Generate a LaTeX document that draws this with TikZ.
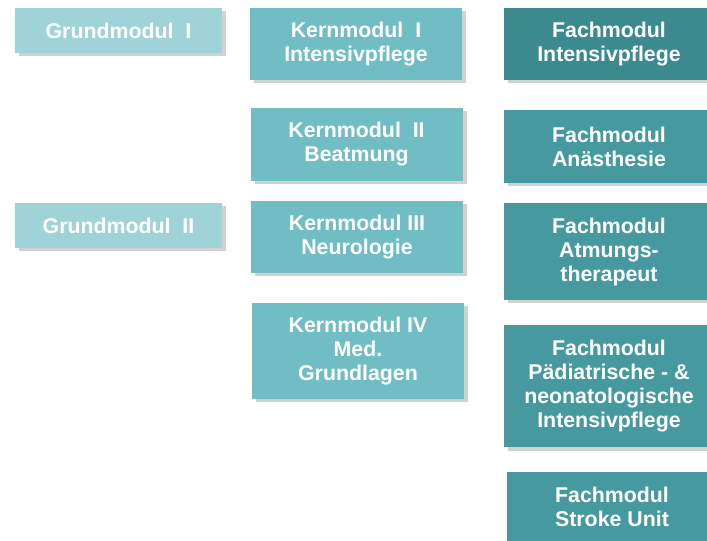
\documentclass[tikz,border=0pt]{standalone}
\usepackage{fontspec}
\setmainfont{Liberation Sans}
\usepackage{xcolor}
\usetikzlibrary{positioning, shadows}
\definecolor{grundcol}{RGB}{160, 211, 215}
\definecolor{kerncol}{RGB}{112, 190, 196}
\definecolor{fachdark}{RGB}{59, 138, 142}
\definecolor{fachcol}{RGB}{70, 153, 158}
\tikzset{
    modbox/.style={rectangle, inner sep=0pt, text=white, align=center,
        font=\fontsize{16}{18}\selectfont\bfseries,
        drop shadow={shadow xshift=3pt, shadow yshift=-2.5pt, opacity=0.3, fill=black!60}},
    grundnode/.style={modbox, fill=grundcol, minimum width=155pt, minimum height=34pt},
    kernnode/.style={modbox, fill=kerncol, minimum width=159pt},
    fachnode/.style={modbox, fill=fachcol, minimum width=158pt}
}

\begin{document}
\begin{tikzpicture}[x=0.75pt, y=0.75pt]
    \useasboundingbox (0,0) rectangle (707,541);
    \clip (0,0) rectangle (707,541);
    % Grundmodule
    \node[grundnode] (g1) at (118.5,510.5) {Grundmodul\ \ I};
    \node[grundnode] (g2) at (118.5,315.5) {Grundmodul\ \ II};
    % Kernmodule
    \node[kernnode, minimum height=54pt] (k1) at (356,497) {Kernmodul\ \ I\\Intensivpflege};
    \node[kernnode, minimum height=55pt] (k2) at (356.5,396.5) {Kernmodul\ \ II\\Beatmung};
    \node[kernnode, minimum height=54pt] (k3) at (357,304) {Kernmodul III\\Neurologie};
    \node[kernnode, minimum height=72pt] (k4) at (358,190) {Kernmodul IV\\Med.\\Grundlagen};
    % Fachmodule
    \node[fachnode, fill=fachdark, minimum height=54pt] (f1) at (609,497) {Fachmodul\\Intensivpflege};
    \node[fachnode, minimum height=55pt] (f2) at (609,394.5) {Fachmodul\\Anästhesie};
    \node[fachnode, minimum height=73pt] (f3) at (609,289.5) {Fachmodul\\Atmungs-\\therapeut};
    \node[fachnode, minimum height=92pt] (f4) at (609,155) {Fachmodul\\Pädiatrische - \&\\neonatologische\\Intensivpflege};
    \node[fachnode, minimum height=53pt] (f5) at (612,34) {Fachmodul\\Stroke Unit};
\end{tikzpicture}
\end{document}
